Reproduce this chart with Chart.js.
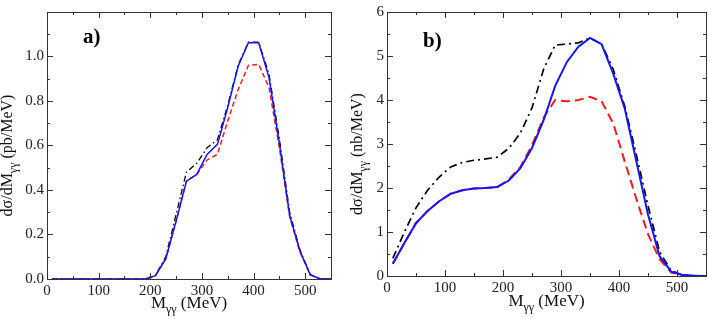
<!DOCTYPE html>
<html>
<head>
<meta charset="utf-8">
<script src="https://cdn.jsdelivr.net/npm/chart.js@4.4.1/dist/chart.umd.min.js"></script>
<style>
  html, body { margin: 0; padding: 0; background: #fff; }
  #wrap { position: relative; width: 708px; height: 319px; }
  #wrap canvas { position: absolute; top: 0; }
</style>
</head>
<body>
<div id="wrap">
  <canvas id="chartA" width="354" height="319" style="left:0px"></canvas>
  <canvas id="chartB" width="368" height="319" style="left:340px"></canvas>
</div>
<script>
// invariant mass grid (MeV)
var massA = [10, 30, 50, 70, 90, 110, 130, 150, 170, 190, 210, 230, 250, 270,
             290, 310, 330, 350, 370, 390, 410, 430, 450, 470, 490, 510, 530, 550];
var massB = [10, 30, 50, 70, 90, 110, 130, 150, 170, 190, 210, 230, 250, 270,
             290, 310, 330, 350, 370, 390, 410, 430, 450, 470, 490, 510, 530, 550];

// panel a) dsigma/dM (pb/MeV)
var blueA  = [0, 0, 0, 0, 0, 0, 0, 0, 0, 0, 0.015, 0.09, 0.26, 0.44,
              0.47, 0.56, 0.605, 0.77, 0.955, 1.062, 1.062, 0.905, 0.61, 0.285, 0.125, 0.018, 0, 0];
var redA   = [0, 0, 0, 0, 0, 0, 0, 0, 0, 0, 0.015, 0.09, 0.26, 0.44,
              0.47, 0.535, 0.56, 0.71, 0.85, 0.96, 0.965, 0.86, 0.59, 0.28, 0.12, 0.018, 0, 0];
var blackA = [0, 0, 0, 0, 0, 0, 0, 0, 0, 0, 0.016, 0.1, 0.29, 0.48,
              0.52, 0.59, 0.625, 0.78, 0.96, 1.065, 1.065, 0.92, 0.63, 0.3, 0.13, 0.02, 0, 0];

// panel b) dsigma/dM (nb/MeV)
var blueB  = [0.28, 0.75, 1.2, 1.48, 1.7, 1.87, 1.95, 1.99, 2.0, 2.02, 2.17, 2.45, 2.91, 3.54,
              4.32, 4.86, 5.21, 5.41, 5.27, 4.6, 3.8, 2.6, 1.4, 0.45, 0.1, 0.02, 0.005, 0];
var redB   = [0.28, 0.75, 1.2, 1.48, 1.7, 1.87, 1.95, 1.99, 2.0, 2.02, 2.19, 2.48, 2.97, 3.6,
              4.0, 3.97, 4.0, 4.07, 3.97, 3.47, 2.6, 1.75, 0.95, 0.38, 0.08, 0.02, 0.005, 0];
var blackB = [0.4, 1.0, 1.55, 1.95, 2.25, 2.48, 2.58, 2.63, 2.66, 2.7, 2.9, 3.25, 3.82, 4.7,
              5.25, 5.27, 5.3, 5.41, 5.27, 4.7, 3.85, 2.75, 1.6, 0.55, 0.12, 0.02, 0.005, 0];

var SERIF = '"Liberation Serif", "Times New Roman", serif';

function pts(xs, ys) {
  return xs.map(function (x, i) { return {x: x, y: ys[i]}; });
}

// text made of [string, isSubscript] pieces, drawn from (0,0) on the baseline
function partsWidth(ctx, parts, size) {
  var w = 0;
  parts.forEach(function (p) {
    ctx.font = (p[1] ? Math.round(size * 0.72) : size) + 'px ' + SERIF;
    w += ctx.measureText(p[0]).width;
  });
  return w;
}
function drawParts(ctx, parts, size, x0) {
  var x = x0;
  parts.forEach(function (p) {
    ctx.font = (p[1] ? Math.round(size * 0.72) : size) + 'px ' + SERIF;
    ctx.fillText(p[0], x, p[1] ? size * 0.3 : 0);
    x += ctx.measureText(p[0]).width;
  });
}

// xmgrace-like frame with inward ticks, axis titles and the panel tag
var framePlugin = {
  id: 'frame',
  afterDatasetsDraw: function (chart, args, o) {
    var ctx = chart.ctx, a = chart.chartArea;
    var xs = chart.scales.x, ys = chart.scales.y;
    ctx.save();
    ctx.strokeStyle = '#333';
    ctx.lineWidth = 1;
    ctx.strokeRect(Math.round(a.left) + 0.5, Math.round(a.top) + 0.5,
                   Math.round(a.right - a.left), Math.round(a.bottom - a.top));
    ctx.beginPath();
    var v, k, len, p;
    for (k = 0; (v = xs.min + k * o.xMinor) <= xs.max + 1e-9; k++) {
      len = (Math.abs(v / o.xMajor - Math.round(v / o.xMajor)) < 1e-6) ? 6 : 3;
      p = Math.round(xs.getPixelForValue(v)) + 0.5;
      ctx.moveTo(p, a.bottom); ctx.lineTo(p, a.bottom - len);
      ctx.moveTo(p, a.top); ctx.lineTo(p, a.top + len);
    }
    for (k = 0; (v = ys.min + k * o.yMinor) <= ys.max + 1e-9; k++) {
      len = (Math.abs(v / o.yMajor - Math.round(v / o.yMajor)) < 1e-6) ? 6 : 3;
      p = Math.round(ys.getPixelForValue(v)) + 0.5;
      ctx.moveTo(a.left, p); ctx.lineTo(a.left + len, p);
      ctx.moveTo(a.right, p); ctx.lineTo(a.right - len, p);
    }
    ctx.stroke();

    ctx.fillStyle = '#111';
    ctx.textAlign = 'left';
    ctx.textBaseline = 'alphabetic';
    // x title
    var w = partsWidth(ctx, o.xTitle, o.titleSize);
    ctx.save();
    ctx.translate((a.left + a.right) / 2 - w / 2, o.xTitleY);
    drawParts(ctx, o.xTitle, o.titleSize, 0);
    ctx.restore();
    // y title
    w = partsWidth(ctx, o.yTitle, o.yTitleSize);
    ctx.save();
    ctx.translate(o.yTitleX, (a.top + a.bottom) / 2 + 10 + w / 2);
    ctx.rotate(-Math.PI / 2);
    drawParts(ctx, o.yTitle, o.yTitleSize, 0);
    ctx.restore();
    // panel tag
    ctx.font = 'bold 21px ' + SERIF;
    ctx.fillStyle = '#000';
    ctx.fillText(o.tag, o.tagX, o.tagY);
    ctx.restore();
  }
};

function makeChart(id, cfg) {
  return new Chart(document.getElementById(id), {
    type: 'line',
    data: {
      datasets: [
        {data: pts(cfg.mass, cfg.blue), borderColor: '#1414ff', borderWidth: cfg.lw},
        {data: pts(cfg.mass, cfg.red), borderColor: '#ff1a1a', borderWidth: cfg.lw,
         borderDash: cfg.dash},
        {data: pts(cfg.mass, cfg.black), borderColor: '#000', borderWidth: cfg.lw * 0.85,
         borderDash: cfg.dashDot}
      ]
    },
    options: {
      responsive: false,
      animation: false,
      devicePixelRatio: 1,
      layout: {padding: {left: 0, right: cfg.padRight, top: 5, bottom: 0}},
      elements: {point: {radius: 0}, line: {tension: 0, fill: false}},
      plugins: {
        legend: {display: false},
        tooltip: {enabled: false},
        frame: cfg.frame
      },
      scales: {
        x: {
          type: 'linear', min: 0, max: 550,
          grid: {display: false, drawTicks: false},
          border: {display: false},
          ticks: {stepSize: 100, includeBounds: false, padding: 3, color: '#222',
                  font: {family: SERIF, size: 15}, maxRotation: 0},
          afterFit: function (s) { s.height = cfg.xHeight; }
        },
        y: {
          type: 'linear', min: 0, max: cfg.yMax,
          grid: {display: false, drawTicks: false},
          border: {display: false},
          ticks: {stepSize: cfg.yStep, padding: 3, color: '#222',
                  font: {family: SERIF, size: 15}, callback: cfg.yLabel},
          afterFit: function (s) { s.width = 47; }
        }
      }
    },
    plugins: [framePlugin]
  });
}

makeChart('chartA', {
  mass: massA, blue: blueA, red: redA, black: blackA,
  lw: 1.5, dash: [5, 3], dashDot: [6, 3, 1.5, 3],
  padRight: 23, xHeight: 40, yMax: 1.2, yStep: 0.2,
  yLabel: function (v) { return v > 1.1 ? '' : v.toFixed(1); },
  frame: {
    xMajor: 100, xMinor: 50, yMajor: 0.2, yMinor: 0.1,
    titleSize: 17, yTitleSize: 16, xTitleY: 308, yTitleX: 12,
    xTitle: [['M', false], ['\u03b3\u03b3', true], [' (MeV)', false]],
    yTitle: [['d\u03c3/dM', false], ['\u03b3\u03b3', true], [' (pb/MeV)', false]],
    tag: 'a)', tagX: 83, tagY: 43
  }
});

makeChart('chartB', {
  mass: massB, blue: blueB, red: redB, black: blackB,
  lw: 2, dash: [9, 5], dashDot: [8, 4, 2, 4],
  padRight: 2, xHeight: 43, yMax: 6, yStep: 1,
  yLabel: function (v) { return String(v); },
  frame: {
    xMajor: 100, xMinor: 50, yMajor: 1, yMinor: 0.5,
    titleSize: 17, yTitleSize: 16, xTitleY: 306, yTitleX: 22,
    xTitle: [['M', false], ['\u03b3\u03b3', true], [' (MeV)', false]],
    yTitle: [['d\u03c3/dM', false], ['\u03b3\u03b3', true], [' (nb/MeV)', false]],
    tag: 'b)', tagX: 83, tagY: 47
  }
});
</script>
</body>
</html>
